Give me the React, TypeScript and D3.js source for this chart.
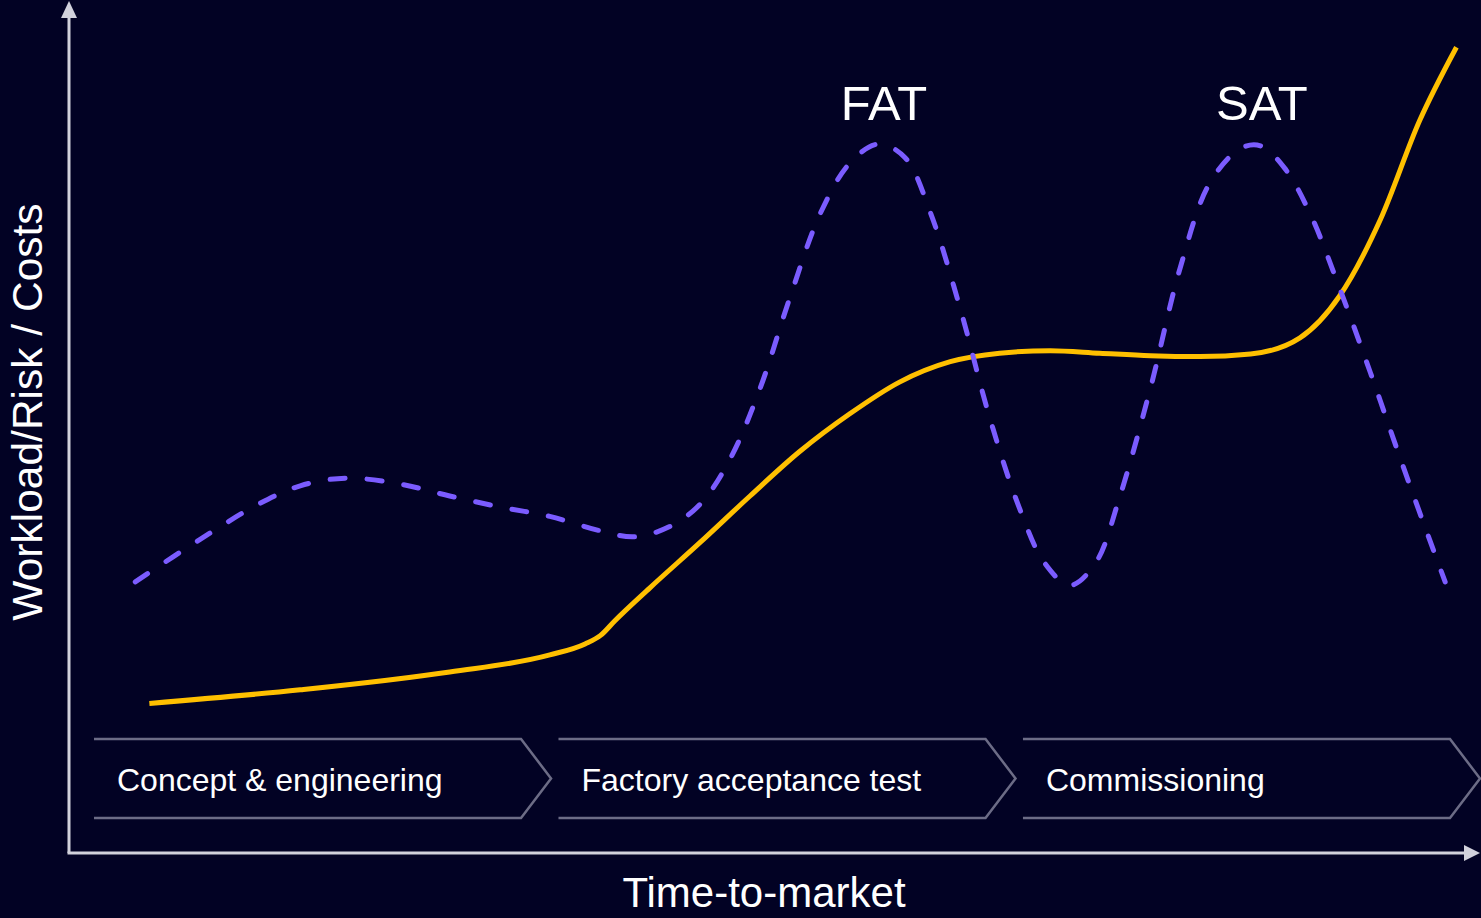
import { useRef, useEffect } from 'react';
import * as d3 from 'd3';

// Phases shown as chevrons along the time axis
const phases = ['Concept & engineering', 'Factory acceptance test', 'Commissioning'];

// Costs curve (solid yellow): time % vs level %
const costTime = [5.7, 16.4, 27.0, 34.1, 36.6, 37.7, 38.7, 41.2, 44.8, 48.3, 51.8, 55.4, 58.9, 62.5, 66.0, 69.6, 73.1, 76.7, 80.2, 83.8, 87.3, 90.1, 93.0, 95.8, 98.4];
const costLevel = [17.6, 19.2, 21.3, 23.3, 24.6, 25.6, 27.3, 31.2, 36.6, 42.0, 47.2, 51.7, 55.4, 57.8, 58.8, 59.1, 58.8, 58.5, 58.4, 58.7, 60.6, 65.5, 74.5, 86.2, 94.8];

// Workload/risk curve (dashed purple)
const riskTime = [4.7, 9.3, 13.5, 16.4, 19.6, 23.5, 27.0, 30.6, 34.1, 37.7, 40.1, 42.6, 44.8, 46.9, 49.0, 51.1, 53.3, 55.4, 57.4, 59.3, 61.1, 63.2, 65.3, 67.4, 69.2, 71.0, 72.8, 74.5, 76.7, 78.8, 80.9, 83.1, 84.5, 86.2, 88.0, 90.1, 92.3, 94.4, 96.2, 97.6];
const riskLevel = [31.9, 36.9, 41.1, 43.2, 44.1, 43.4, 42.0, 40.7, 39.6, 37.9, 37.2, 38.4, 41.1, 46.4, 54.6, 65.2, 75.3, 81.2, 83.4, 81.8, 75.3, 64.1, 51.2, 40.6, 34.1, 31.5, 34.1, 41.8, 54.7, 68.8, 78.8, 82.9, 83.2, 80.6, 75.3, 66.5, 56.5, 46.5, 38.2, 31.9];

// Peak annotations
const peakNames = ['FAT', 'SAT'];
const peakTime = [57.8, 84.6];

const width = 1481;
const height = 918;

function App() {
    const svgRef = useRef<SVGSVGElement>(null);

    useEffect(() => {
        document.body.style.margin = '0';
        document.body.style.background = '#020224';
        if (!svgRef.current) return;

        const svg = d3.select(svgRef.current)
            .attr('width', width)
            .attr('height', height)
            .style('display', 'block')
            .style('font-family', '"Liberation Sans", Arial, sans-serif');

        svg.selectAll('*').remove();

        svg.append('rect').attr('width', width).attr('height', height).attr('fill', '#020224');

        const x = d3.scaleLinear().domain([0, 100]).range([69, 1479]);
        const y = d3.scaleLinear().domain([0, 100]).range([853, 3]);

        const axisColor = '#d2d2dc';

        //Axes with arrowheads
        svg.append('line')
            .attr('x1', x(0)).attr('y1', y(0))
            .attr('x2', x(0)).attr('y2', y(100) + 12)
            .attr('stroke', axisColor).attr('stroke-width', 3);
        svg.append('path')
            .attr('d', `M${x(0)},${y(100) - 2} L${x(0) - 8},${y(100) + 15} L${x(0) + 8},${y(100) + 15} Z`)
            .attr('fill', axisColor);

        svg.append('line')
            .attr('x1', x(0) - 1.5).attr('y1', y(0))
            .attr('x2', x(100) - 12).attr('y2', y(0))
            .attr('stroke', axisColor).attr('stroke-width', 3);
        svg.append('path')
            .attr('d', `M${x(100) + 1},${y(0)} L${x(100) - 15},${y(0) - 8} L${x(100) - 15},${y(0) + 8} Z`)
            .attr('fill', axisColor);

        //Axis titles
        svg.append('text')
            .attr('x', 764)
            .attr('y', 907)
            .attr('text-anchor', 'middle')
            .attr('font-size', 42)
            .attr('fill', '#fff')
            .text('Time-to-market');

        svg.append('text')
            .attr('transform', 'translate(42,412) rotate(-90)')
            .attr('text-anchor', 'middle')
            .attr('font-size', 42.5)
            .attr('fill', '#fff')
            .text('Workload/Risk / Costs');

        //Phase chevrons
        const band = d3.scaleBand<string>()
            .domain(phases)
            .range([94, 1480])
            .paddingInner(0.016);
        const top = 739;
        const bottom = 818;
        const tip = 30;

        const chevrons = svg.append('g').selectAll('g')
            .data(phases)
            .join('g');

        chevrons.append('path')
            .attr('d', (d) => {
                const x0 = band(d)!;
                const x1 = x0 + band.bandwidth() - tip;
                return `M${x0},${top} L${x1},${top} L${x1 + tip},${(top + bottom) / 2} L${x1},${bottom} L${x0},${bottom}`;
            })
            .attr('fill', 'none')
            .attr('stroke', '#6c6c86')
            .attr('stroke-width', 2.5);

        chevrons.append('text')
            .attr('x', (d) => band(d)! + 23)
            .attr('y', 791)
            .attr('font-size', 32)
            .attr('fill', '#fff')
            .text((d) => d);

        //Curves
        const line = d3.line<number>()
            .x((_, i) => x(costTime[i]))
            .y((d) => y(d))
            .curve(d3.curveMonotoneX);

        svg.append('path')
            .datum(costLevel)
            .attr('d', line)
            .attr('fill', 'none')
            .attr('stroke', '#ffc000')
            .attr('stroke-width', 5)
            .attr('stroke-linecap', 'butt');

        const riskLine = d3.line<number>()
            .x((_, i) => x(riskTime[i]))
            .y((d) => y(d))
            .curve(d3.curveCatmullRom.alpha(0.5));

        svg.append('path')
            .datum(riskLevel)
            .attr('d', riskLine)
            .attr('fill', 'none')
            .attr('stroke', '#7b5cff')
            .attr('stroke-width', 5)
            .attr('stroke-linecap', 'round')
            .attr('stroke-dasharray', '15 22');

        //Peak labels
        svg.append('g').selectAll('text')
            .data(peakNames)
            .join('text')
            .attr('x', (_, i) => x(peakTime[i]))
            .attr('y', 120)
            .attr('text-anchor', 'middle')
            .attr('font-size', 49)
            .attr('fill', '#fff')
            .text((d) => d);
    }, []);

    return <svg ref={svgRef} />;
}

export default App;
